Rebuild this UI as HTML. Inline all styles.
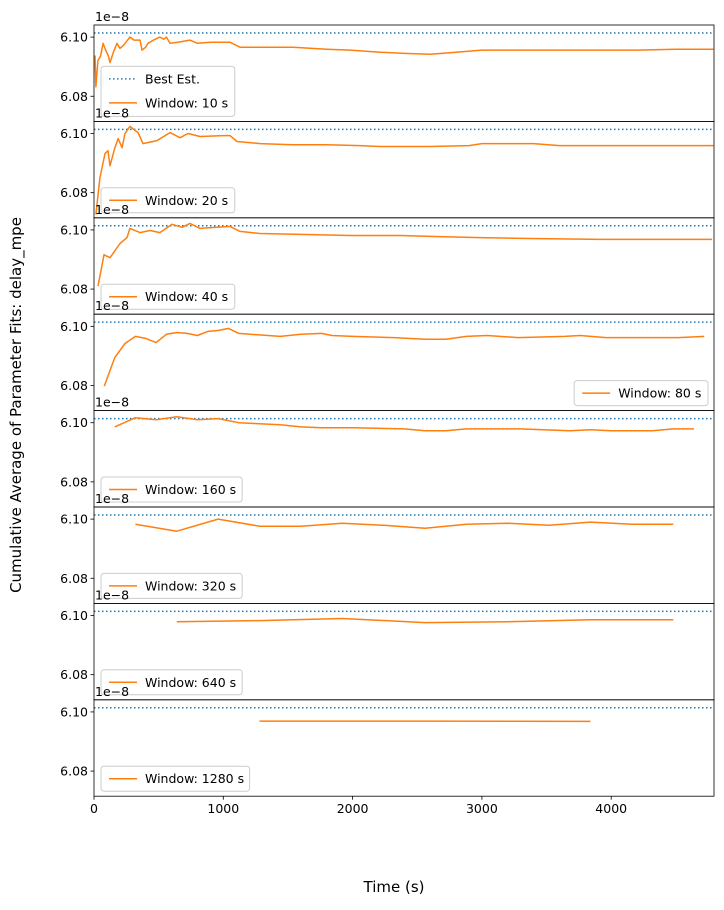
<!DOCTYPE html>
<html><head><meta charset="utf-8"><style>
html,body{margin:0;padding:0;background:#fff;}
svg text{font-family:"DejaVu Sans","Liberation Sans",sans-serif;}
</style></head><body>
<svg id="chart" width="724" height="905" viewBox="0 0 724 905" xmlns="http://www.w3.org/2000/svg"></svg>
<script>
const bestEst = 6.1014;
const windows = [10, 20, 40, 80, 160, 320, 640, 1280];
const t10 = [8,15,30,50,70,90,110,124,150,178,200,230,278,310,356,371,400,418,460,510,540,560,588,650,742,800,900,1052,1129,1300,1540,1800,1980,2212,2400,2600,2800,3000,3400,3800,4200,4500,4790];
const v10 = [6.0938,6.0832,6.0921,6.0935,6.0979,6.0956,6.0938,6.0914,6.0949,6.0979,6.0962,6.0973,6.1,6.099,6.099,6.0956,6.0966,6.0979,6.099,6.1,6.0993,6.1,6.0979,6.0983,6.099,6.0979,6.0983,6.0983,6.0966,6.0966,6.0966,6.0959,6.0956,6.0949,6.0945,6.0942,6.0949,6.0956,6.0956,6.0956,6.0956,6.0959,6.0959];
const t20 = [15,46,85,108,124,162,186,217,240,278,340,379,487,588,665,727,820,998,1052,1106,1284,1539,1802,2057,2212,2600,2900,3000,3400,3600,4790];
const v20 = [6.0726,6.085,6.0932,6.0942,6.0891,6.0952,6.0983,6.0952,6.1,6.1024,6.1003,6.0966,6.0976,6.1003,6.0986,6.1,6.099,6.0993,6.0993,6.0973,6.0966,6.0962,6.0962,6.0959,6.0956,6.0956,6.0959,6.0966,6.0966,6.0959,6.0959];
const t40 = [31,77,124,201,255,278,356,433,510,603,681,742,820,1052,1129,1284,1593,1980,2367,2599,2985,3372,3913,4300,4780];
const v40 = [6.081,6.0916,6.0906,6.0954,6.0974,6.1005,6.0991,6.0998,6.0991,6.1019,6.1009,6.1022,6.1005,6.1012,6.0995,6.0988,6.0985,6.0981,6.0981,6.0978,6.0974,6.0971,6.0968,6.0968,6.0968];
const t80 = [80,160,240,320,400,480,560,640,720,800,880,960,1040,1120,1440,1600,1760,1840,2000,2320,2560,2720,2880,3040,3280,3640,3760,3960,4120,4400,4520,4720];
const v80 = [6.0798,6.0894,6.0942,6.0966,6.0959,6.0945,6.0973,6.0979,6.0976,6.0969,6.0983,6.0986,6.0993,6.0976,6.0966,6.0973,6.0976,6.0969,6.0966,6.0962,6.0956,6.0956,6.0966,6.0969,6.0962,6.0966,6.0969,6.0962,6.0962,6.0962,6.0962,6.0966];
const t160 = [160,320,480,640,800,960,1120,1440,1600,1760,2000,2400,2560,2720,2880,3040,3300,3680,3840,4000,4320,4480,4640];
const v160 = [6.0986,6.1017,6.101,6.102,6.101,6.1014,6.1,6.0993,6.0986,6.0983,6.0983,6.0979,6.0973,6.0973,6.0979,6.0979,6.0979,6.0973,6.0976,6.0973,6.0973,6.0979,6.0979];
const t320 = [320,640,960,1280,1600,1920,2240,2560,2880,3200,3520,3840,4160,4480];
const v320 = [6.0983,6.0959,6.1,6.0976,6.0976,6.0986,6.0979,6.0969,6.0983,6.0986,6.0979,6.099,6.0983,6.0983];
const t640 = [640,1280,1920,2560,3200,3840,4480];
const v640 = [6.0979,6.0983,6.099,6.0976,6.0979,6.0986,6.0986];
const t1280 = [1280,2560,3840];
const v1280 = [6.0969,6.0969,6.0968];
const seriesT = [t10,t20,t40,t80,t160,t320,t640,t1280];
const seriesV = [v10,v20,v40,v80,v160,v320,v640,v1280];
const xTicks = [0,1000,2000,3000,4000];
const yTicks = [6.08,6.10];
const yTickLabels = ["6.08","6.10"];

const svg = document.getElementById('chart');
const NS = 'http://www.w3.org/2000/svg';
const L = 94, R = 714, TOP0 = 25, PH = 96.4;
const XMIN = 0, XMAX = 4795, YMIN = 6.0715, YMAX = 6.1041;
const xs = t => L + (t - XMIN) / (XMAX - XMIN) * (R - L);
function mk(tag, attrs, parent) {
  const e = document.createElementNS(NS, tag);
  for (const k in attrs) e.setAttribute(k, attrs[k]);
  (parent || svg).appendChild(e);
  return e;
}
for (let i = 0; i < windows.length; i++) {
  const top = TOP0 + i * PH, bot = top + PH;
  const ys = v => bot - (v - YMIN) / (YMAX - YMIN) * PH;
  const g = mk('g', {});
  
  
  const cid = 'clip' + i;
  const cp = mk('clipPath', {id: cid}, g);
  mk('rect', {x: L, y: top, width: R - L, height: PH}, cp);
  // best est
  const be = mk('line', {x1: L, x2: R, y1: ys(bestEst), y2: ys(bestEst), stroke: '#1f77b4', 'stroke-width': 1.5, 'stroke-dasharray': '1.5,2.5', 'clip-path': 'url(#' + cid + ')'}, g);
  
  
  // series
  const T = seriesT[i], V = seriesV[i];
  let d = '';
  for (let j = 0; j < T.length; j++) d += (j ? 'L' : 'M') + xs(T[j]).toFixed(1) + ',' + ys(V[j]).toFixed(1);
  const p = mk('path', {d: d, fill: 'none', stroke: '#ff7f0e', 'stroke-width': 1.5, 'stroke-linejoin': 'round', 'clip-path': 'url(#' + cid + ')'}, g);
  
  
  // frame
  const fr = mk('rect', {x: L, y: top, width: R - L, height: PH, fill: 'none', stroke: '#000', 'stroke-width': 0.8}, g);
  
  
  // y ticks
  for (let k = 0; k < yTicks.length; k++) {
    const y = ys(yTicks[k]);
    mk('line', {x1: L - 3.5, x2: L, y1: y, y2: y, stroke: '#000', 'stroke-width': 0.8}, g);
    const tl = mk('text', {x: L - 6, y: y + 4.5, 'font-size': 12.5, 'text-anchor': 'end', fill: '#000'}, g);
    tl.textContent = yTickLabels[k];
    
    
  }
  const off = mk('text', {x: L + 1, y: top - 4, 'font-size': 12.5, fill: '#000'}, g);
  off.textContent = '1e\u22128';
  
  
  // legend
  const lg = mk('g', {}, g);
  
  
  const label = 'Window: ' + windows[i] + ' s';
  const lw = 45 + label.length * 7.4;
  let lx, ly, lh;
  if (i === 0) { lh = 50; lx = L + 7; ly = bot - 5 - lh; }
  else { lh = 25; ly = bot - 5 - lh; lx = (i === 3) ? R - 6 - lw : L + 7; }
  mk('rect', {x: lx, y: ly, width: lw, height: lh, rx: 3, fill: '#fff', 'fill-opacity': 0.8, stroke: '#ccc', 'stroke-width': 1}, lg);
  let ey = ly + 12.5;
  if (i === 0) {
    mk('line', {x1: lx + 8, x2: lx + 36, y1: ey, y2: ey, stroke: '#1f77b4', 'stroke-width': 1.5, 'stroke-dasharray': '1.5,2.5'}, lg);
    const bt = mk('text', {x: lx + 44, y: ey + 4.5, 'font-size': 12.5, fill: '#000'}, lg);
    bt.textContent = 'Best Est.';
    
    
    ey += 24;
  }
  mk('line', {x1: lx + 8, x2: lx + 36, y1: ey, y2: ey, stroke: '#ff7f0e', 'stroke-width': 1.5}, lg);
  const wt = mk('text', {x: lx + 44, y: ey + 4.5, 'font-size': 12.5, fill: '#000'}, lg);
  wt.textContent = label;
  
  
  if (i === windows.length - 1) {
    for (const xt of xTicks) {
      const x = xs(xt);
      mk('line', {x1: x, x2: x, y1: bot, y2: bot + 3.5, stroke: '#000', 'stroke-width': 0.8}, g);
      const xl = mk('text', {x: x, y: bot + 17, 'font-size': 12.5, 'text-anchor': 'middle', fill: '#000'}, g);
      xl.textContent = String(xt);
      
      
    }
  }
}
const xt = mk('text', {x: 394, y: 892, 'font-size': 15, 'text-anchor': 'middle', fill: '#000'});
xt.textContent = 'Time (s)';


const yt = mk('text', {x: 0, y: 0, 'font-size': 15, 'text-anchor': 'middle', fill: '#000', transform: 'translate(21,405) rotate(-90)'});
yt.textContent = 'Cumulative Average of Parameter Fits: delay_mpe';


</script>
</body></html>
